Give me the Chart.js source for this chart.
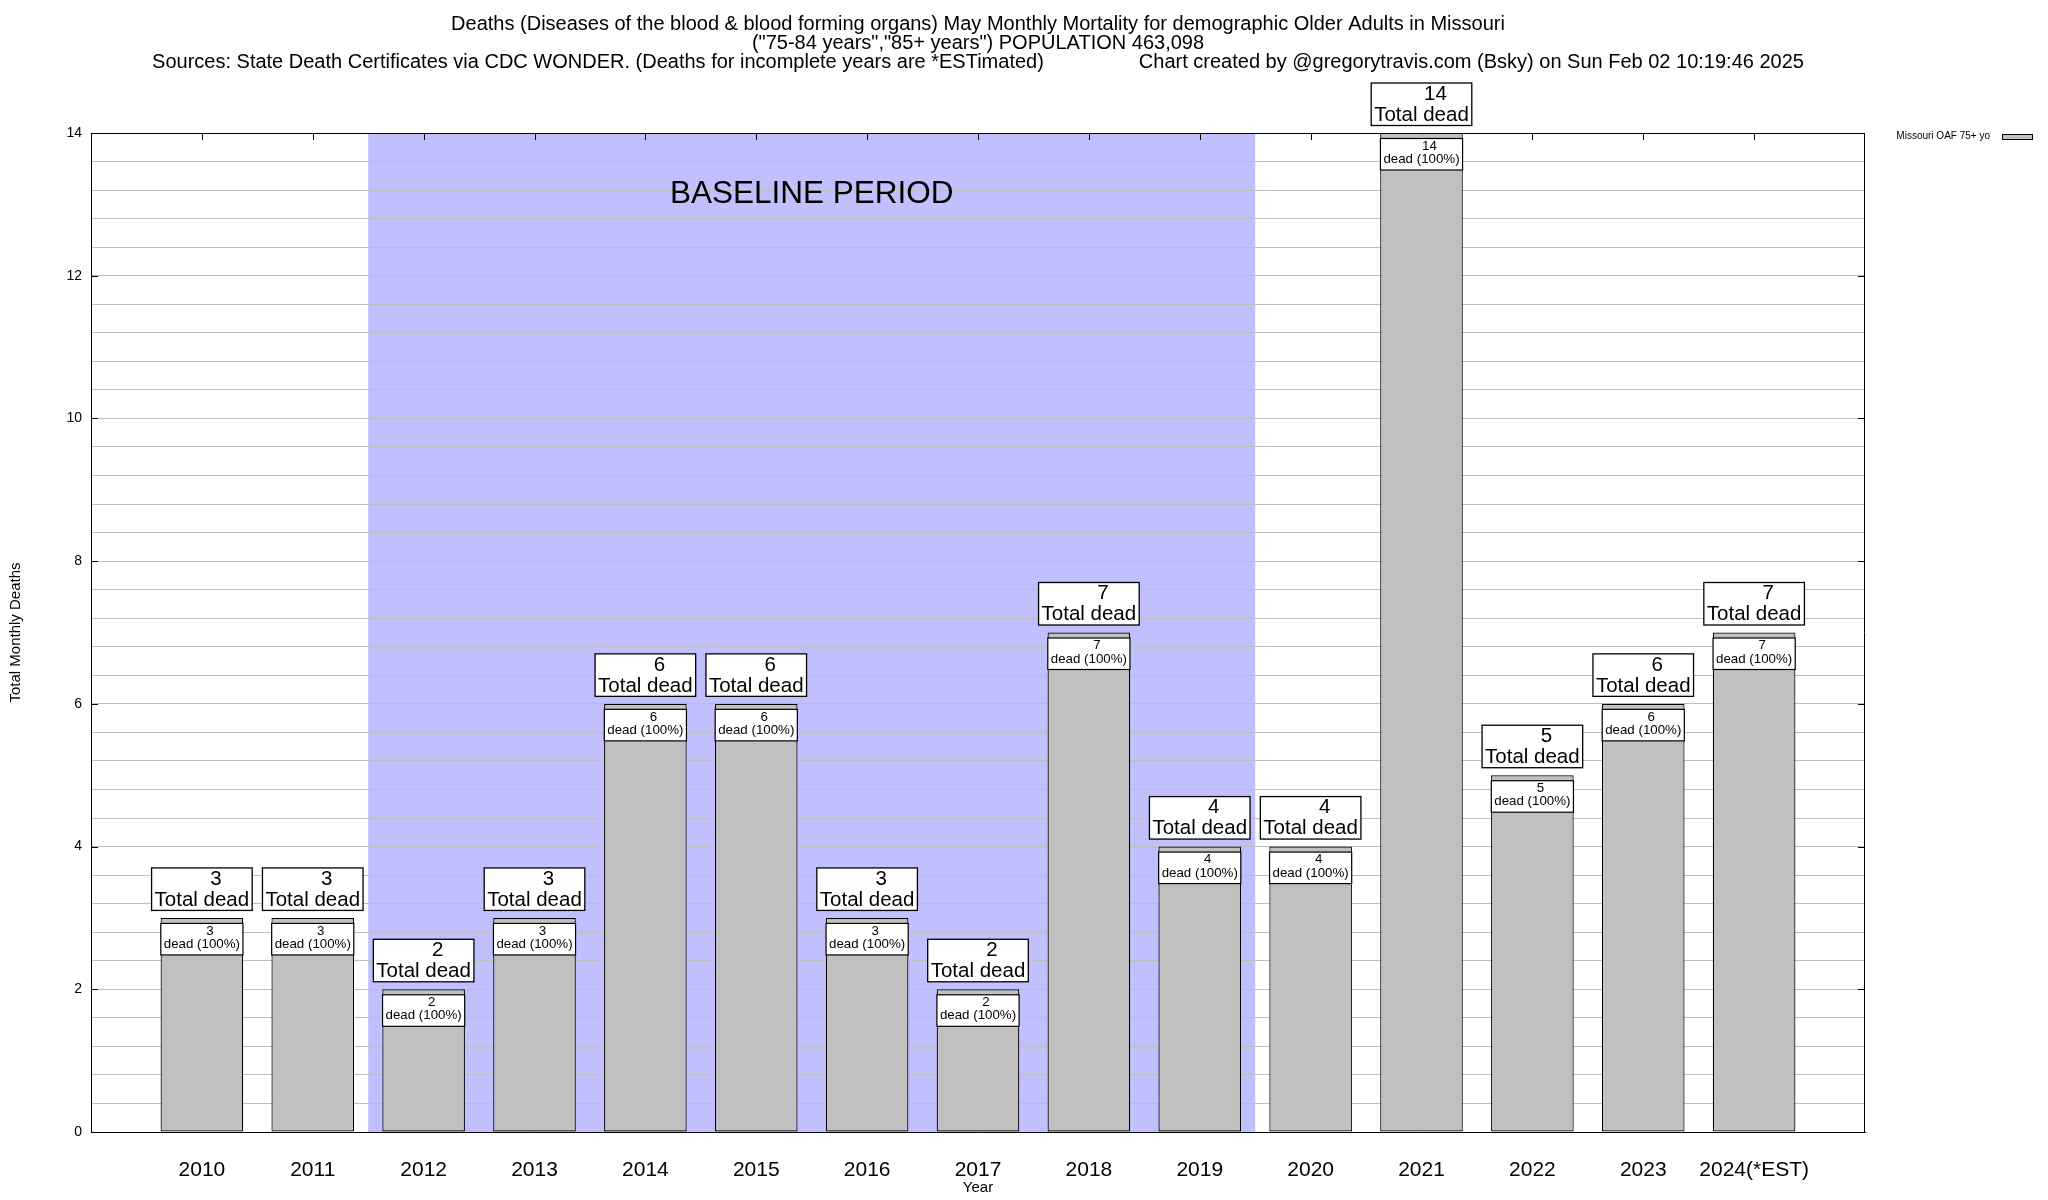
<!DOCTYPE html>
<html lang="en">
<head>
    <meta charset="UTF-8">
    <title>Missouri May Monthly Mortality - Diseases of the blood</title>
    <script src="https://cdn.jsdelivr.net/npm/chart.js"></script>
    <style>
        body { margin: 0; background: #fff; }
        #wrap { width: 2048px; height: 1200px; }
    </style>
</head>
<body>
<div id="wrap"><canvas id="myChart" width="2048" height="1200"></canvas></div>
<script>
// chart values
const years = ['2010', '2011', '2012', '2013', '2014', '2015', '2016', '2017',
               '2018', '2019', '2020', '2021', '2022', '2023', '2024(*EST)'];
const deaths = [3, 3, 2, 3, 6, 6, 3, 2, 7, 4, 4, 14, 5, 6, 7];
const seriesLabel = 'Missouri OAF 75+ yo';
const baselineYears = ['2012', '2019'];
const yMax = 14;
const yGridStep = 0.4;
const yLabelStep = 2;

const titleLine1 = 'Deaths (Diseases of the blood & blood forming organs) May Monthly Mortality for demographic Older Adults in Missouri';
const titleLine2 = '("75-84 years","85+ years") POPULATION 463,098';
const sourceText = 'Sources: State Death Certificates via CDC WONDER. (Deaths for incomplete years are *ESTimated)';
const creditText = 'Chart created by @gregorytravis.com (Bsky) on Sun Feb 02 10:19:46 2025';

const FONT = "'Liberation Sans', Arial, Helvetica, sans-serif";
Chart.defaults.font.family = FONT;
Chart.defaults.color = '#000';

const decor = {
    id: 'decor',
    beforeDraw(chart) {
        // baseline shading behind the grid
        const {ctx, chartArea: a, scales: {x}} = chart;
        const x0 = x.getPixelForValue(years.indexOf(baselineYears[0]) + 0.5);
        const x1 = x.getPixelForValue(years.indexOf(baselineYears[1]) + 1.5);
        ctx.save();
        ctx.fillStyle = '#c0c0ff';
        ctx.fillRect(x0, a.top, x1 - x0, a.bottom - a.top);
        ctx.restore();
    },
    beforeDatasetsDraw(chart) {
        const {ctx, chartArea: a, scales: {x, y}} = chart;
        ctx.save();
        // top mirror ticks
        ctx.strokeStyle = '#000';
        ctx.lineWidth = 1;
        ctx.beginPath();
        years.forEach((yr, i) => {
            const px = Math.round(x.getPixelForValue(i + 1)) + 0.5;
            ctx.moveTo(px, a.top);
            ctx.lineTo(px, a.top + 7);
        });
        ctx.stroke();
        // baseline label
        const mid = (years.indexOf(baselineYears[0]) + years.indexOf(baselineYears[1])) / 2 + 1;
        ctx.fillStyle = '#000';
        ctx.font = '31.5px ' + FONT;
        ctx.textAlign = 'center';
        ctx.textBaseline = 'middle';
        ctx.fillText('BASELINE PERIOD', x.getPixelForValue(mid), y.getPixelForValue(13.14));
        ctx.restore();
    },
    afterDatasetsDraw(chart) {
        const {ctx} = chart;
        const meta = chart.getDatasetMeta(0);
        ctx.save();
        ctx.textAlign = 'center';
        ctx.textBaseline = 'middle';
        meta.data.forEach((bar, i) => {
            const v = deaths[i];
            const p = bar.getProps(['x', 'y', 'width'], true);

            // label above the bar
            ctx.font = '20.5px ' + FONT;
            const ow = ctx.measureText('Total dead').width + 6;
            const oh = 42.5;
            const ox = p.x - ow / 2;
            const oy = p.y - 7.5 - oh;
            ctx.fillStyle = '#fff';
            ctx.fillRect(ox, oy, ow, oh);
            ctx.strokeStyle = '#000';
            ctx.lineWidth = 1.3;
            ctx.strokeRect(ox, oy, ow, oh);
            ctx.fillStyle = '#000';
            ctx.fillText(String(v), p.x + 14, oy + 11);
            ctx.fillText('Total dead', p.x, oy + 32);

            // label inside the bar
            ctx.font = '13.3px ' + FONT;
            const share = Math.round(100 * v / v);
            const inner = 'dead (' + share + '%)';
            const iw = ctx.measureText(inner).width + 6;
            const ih = 31.5;
            const ix = p.x - iw / 2;
            const iy = p.y + 5.5;
            ctx.fillStyle = '#fff';
            ctx.fillRect(ix, iy, iw, ih);
            ctx.lineWidth = 1.2;
            ctx.strokeRect(ix, iy, iw, ih);
            ctx.fillStyle = '#000';
            ctx.fillText(String(v), p.x + 8, iy + 7.5);
            ctx.fillText(inner, p.x, iy + 21);
        });
        ctx.restore();
    },
    afterDraw(chart) {
        const {ctx, chartArea: a, scales: {y}} = chart;
        ctx.save();
        // frame top and right
        ctx.strokeStyle = '#000';
        ctx.lineWidth = 1;
        ctx.beginPath();
        ctx.moveTo(a.left, Math.round(a.top) + 0.5);
        ctx.lineTo(a.right, Math.round(a.top) + 0.5);
        ctx.moveTo(Math.round(a.right) - 0.5, a.top);
        ctx.lineTo(Math.round(a.right) - 0.5, a.bottom);
        // major y ticks, both sides
        for (let v = 0; v <= yMax; v += yLabelStep) {
            const py = Math.round(y.getPixelForValue(v)) + 0.5;
            ctx.moveTo(a.left, py);
            ctx.lineTo(a.left + 7, py);
            ctx.moveTo(a.right, py);
            ctx.lineTo(a.right - 7, py);
        }
        ctx.stroke();

        // titles
        const cx = (a.left + a.right) / 2;
        ctx.fillStyle = '#000';
        ctx.font = '20px ' + FONT;
        ctx.textBaseline = 'middle';
        ctx.textAlign = 'center';
        ctx.fillText(titleLine1, cx, 24);
        ctx.fillText(titleLine2, cx, 43);
        const w1 = ctx.measureText(sourceText).width;
        const w2 = ctx.measureText(creditText).width;
        const gap = 95;
        const sx = cx - (w1 + gap + w2) / 2;
        ctx.textAlign = 'left';
        ctx.fillText(sourceText, sx, 62);
        ctx.fillText(creditText, sx + w1 + gap, 62);

        // legend
        const ds = chart.data.datasets[0];
        ctx.font = '10px ' + FONT;
        ctx.textAlign = 'right';
        ctx.fillText(ds.label, a.right + 125, a.top + 3.5);
        ctx.fillStyle = ds.backgroundColor;
        ctx.fillRect(a.right + 137, a.top + 1, 30, 5);
        ctx.strokeRect(a.right + 137.5, a.top + 1.5, 30, 5);
        ctx.restore();
    }
};

const ctx = document.getElementById('myChart').getContext('2d');
const myChart = new Chart(ctx, {
    type: 'bar',
    data: {
        datasets: [{
            label: seriesLabel,
            data: deaths.map((v, i) => ({x: i + 1, y: v})),
            backgroundColor: '#c0c0c0',
            borderColor: '#000',
            borderWidth: 1.2,
            borderSkipped: false,
            barPercentage: 0.745,
            categoryPercentage: 1
        }]
    },
    options: {
        responsive: false,
        animation: false,
        devicePixelRatio: 1,
        layout: { padding: { top: 133, right: 183, left: 0, bottom: 0 } },
        plugins: {
            legend: { display: false },
            tooltip: { enabled: false }
        },
        scales: {
            x: {
                type: 'linear',
                min: 0,
                max: years.length + 1,
                offset: false,
                grid: { display: false, drawTicks: false },
                border: { color: '#000', width: 1 },
                ticks: {
                    stepSize: 1,
                    autoSkip: false,
                    maxRotation: 0,
                    padding: 26,
                    font: { size: 21 },
                    callback: v => years[v - 1] || ''
                },
                title: { display: true, text: 'Year', font: { size: 15 }, padding: { top: 0, bottom: 3 } },
                afterFit: s => { s.height = 68; }
            },
            y: {
                min: 0,
                max: yMax,
                grid: { color: '#bebebe', lineWidth: 1, drawTicks: false },
                border: { color: '#000', width: 1 },
                ticks: {
                    stepSize: yGridStep,
                    autoSkip: false,
                    padding: 9,
                    font: { size: 14 },
                    callback: v => {
                        const r = v / yLabelStep;
                        return Math.abs(r - Math.round(r)) < 1e-6 ? String(Math.round(v)) : '';
                    }
                },
                title: { display: true, text: 'Total Monthly Deaths', font: { size: 15 }, padding: { top: 7, bottom: 0 } },
                afterFit: s => { s.width = 91; }
            }
        }
    },
    plugins: [decor]
});
</script>
</body>
</html>
